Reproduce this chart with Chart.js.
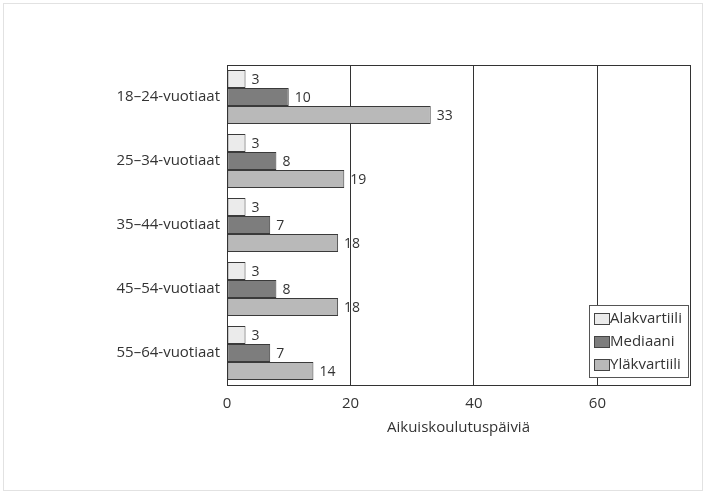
<!DOCTYPE html>
<html>
<head>
<meta charset="utf-8">
<script src="https://cdn.jsdelivr.net/npm/chart.js@4/dist/chart.umd.min.js"></script>
<style>
  html, body { margin: 0; padding: 0; background: #fff; }
  #wrap { width: 704px; height: 492px; position: relative; }
</style>
</head>
<body>
<div id="wrap"><canvas id="chart" width="704" height="492"></canvas></div>
<script>
// Koulutuspäivät ikäryhmittäin: ala-, mediaani- ja yläkvartiili.
const AGE_GROUPS = ["18–24-vuotiaat", "25–34-vuotiaat", "35–44-vuotiaat", "45–54-vuotiaat", "55–64-vuotiaat"];
const LOWER_Q  = [3, 3, 3, 3, 3];
const MEDIAN   = [10, 8, 7, 8, 7];
const UPPER_Q  = [33, 19, 18, 18, 14];
const X_TICKS  = [0, 20, 40, 60];
const X_TITLE  = "Aikuiskoulutuspäiviä";

const INK = "#333333";
const FONT = '"Open Sans", sans-serif';

// Numbers at the bar ends + the frame round the plot.
const valueLabels = {
  id: "valueLabels",
  afterDatasetsDraw(chart) {
    const { ctx, chartArea: a } = chart;
    ctx.save();
    ctx.strokeStyle = INK;
    ctx.lineWidth = 1;
    ctx.strokeRect(Math.round(a.left) + 0.5, Math.round(a.top) + 0.5,
                   Math.round(a.right - a.left), Math.round(a.bottom - a.top));
    ctx.fillStyle = INK;
    ctx.font = "14px " + FONT;
    ctx.textBaseline = "middle";
    chart.data.datasets.forEach((ds, i) => {
      chart.getDatasetMeta(i).data.forEach((el, j) => {
        ctx.fillText(String(ds.data[j]), el.x + 6, el.y + 1);
      });
    });
    ctx.restore();
  },
};

// Boxed legend in the bottom right corner of the plot.
const boxLegend = {
  id: "boxLegend",
  afterDraw(chart) {
    const { ctx, chartArea: a } = chart;
    const w = 99, rowH = 23, h = 72;
    const x = a.right - w - 2, y = a.bottom - h - 8;
    ctx.save();
    ctx.fillStyle = "#fff";
    ctx.fillRect(x, y, w, h);
    ctx.strokeStyle = "#555";
    ctx.lineWidth = 1;
    ctx.strokeRect(x + 0.5, y + 0.5, w, h);
    ctx.font = "15px " + FONT;
    ctx.textBaseline = "middle";
    chart.data.datasets.forEach((ds, i) => {
      const cy = y + 13 + i * rowH;
      ctx.fillStyle = ds.backgroundColor;
      ctx.fillRect(x + 5, cy - 5, 15, 11);
      ctx.strokeStyle = "#444";
      ctx.strokeRect(x + 5.5, cy - 4.5, 15, 11);
      ctx.fillStyle = INK;
      ctx.fillText(ds.label, x + 21, cy + 1);
    });
    ctx.restore();
  },
};

const border = {
  id: "pageBorder",
  beforeDraw(chart) {
    const { ctx, width, height } = chart;
    ctx.save();
    ctx.fillStyle = "#fff";
    ctx.fillRect(0, 0, width, height);
    ctx.strokeStyle = "#e2e2e2";
    ctx.strokeRect(3.5, 3.5, width - 5, height - 5);
    ctx.restore();
  },
};

const series = [
  { label: "Alakvartiili", data: LOWER_Q, backgroundColor: "#ebebeb" },
  { label: "Mediaani",     data: MEDIAN,  backgroundColor: "#7d7d7d" },
  { label: "Yläkvartiili", data: UPPER_Q, backgroundColor: "#b9b9b9" },
];

new Chart(document.getElementById("chart"), {
  type: "bar",
  data: {
    labels: AGE_GROUPS,
    datasets: series.map(s => ({
      ...s,
      borderColor: "#3a3a3a",
      borderWidth: 1,
      borderSkipped: false,
      categoryPercentage: 0.84,
      barPercentage: 1.0,
    })),
  },
  options: {
    indexAxis: "y",
    responsive: false,
    animation: false,
    layout: { padding: { top: 65, right: 14, bottom: 55, left: 0 } },
    plugins: { legend: { display: false }, tooltip: { enabled: false } },
    scales: {
      x: {
        min: 0, max: 75,
        afterBuildTicks: (scale) => { scale.ticks = X_TICKS.map(v => ({ value: v })); },
        grid: { color: INK, drawTicks: false, lineWidth: 1 },
        border: { display: false },
        ticks: { color: INK, padding: 10, font: { family: FONT, size: 15 } },
        title: { display: true, text: X_TITLE, color: INK, padding: { top: -4, bottom: 0 },
                 font: { family: FONT, size: 15 } },
      },
      y: {
        afterFit: (scale) => { scale.width = 227; },
        grid: { display: false, drawTicks: false },
        border: { display: false },
        ticks: { color: INK, padding: 7, font: { family: FONT, size: 15 } },
      },
    },
  },
  plugins: [border, valueLabels, boxLegend],
});
</script>
</body>
</html>
